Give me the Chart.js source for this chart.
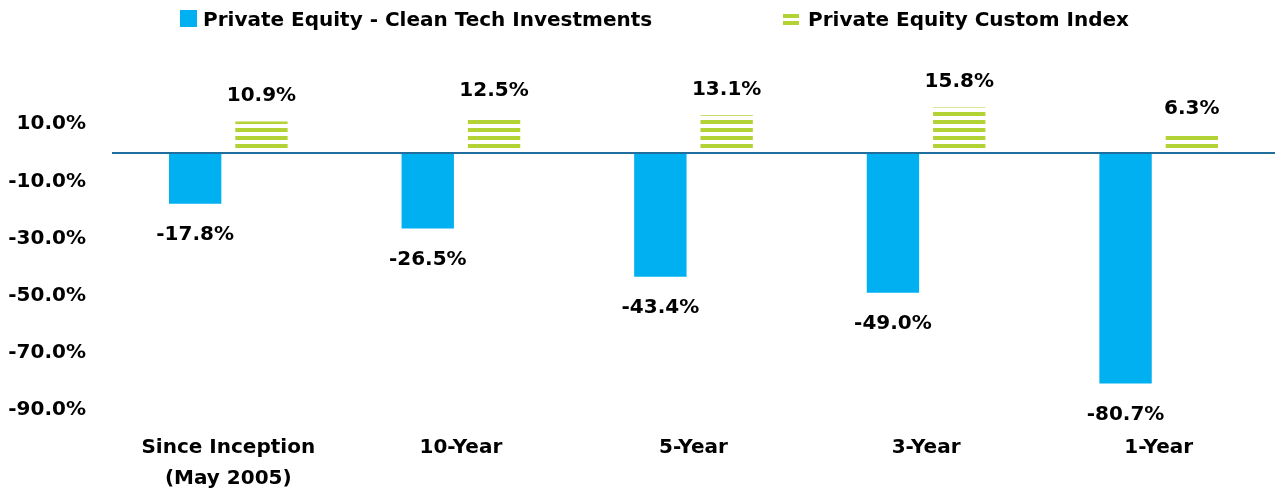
<!DOCTYPE html>
<html>
<head>
<meta charset="utf-8">
<script src="https://cdn.jsdelivr.net/npm/chart.js@4.4.0/dist/chart.umd.min.js"></script>
<style>
    body { margin: 0; background: #fff; }
    .wrap { position: relative; width: 1275px; height: 495px; }
    .legend-item { position: absolute; top: 6px; font: bold 20px "DejaVu Sans", sans-serif; color: #000; line-height: 26px; white-space: nowrap; }
    .legend-box { position: absolute; }
    .box-blue { left: 180px; top: 10px; width: 17px; height: 17px; background: #00b0f0; }
    .box-green { left: 783px; top: 14px; width: 16px; height: 11px;
        background: repeating-linear-gradient(to bottom, #b3d335 0 4px, transparent 4px 7px); }
</style>
</head>
<body>
<div class="wrap">
    <canvas id="perfChart" width="1275" height="495"></canvas>
    <div class="legend-box box-blue"></div>
    <div class="legend-item" style="left:203px">Private Equity - Clean Tech Investments</div>
    <div class="legend-box box-green"></div>
    <div class="legend-item" style="left:808px">Private Equity Custom Index</div>
</div>
<script>
// 데이터
const categories = [['Since Inception', '(May 2005)'], '10-Year', '5-Year', '3-Year', '1-Year'];
const seriesNames = ['Private Equity - Clean Tech Investments', 'Private Equity Custom Index'];
const cleanTechValues = [-17.8, -26.5, -43.4, -49.0, -80.7];
const customIndexValues = [10.9, 12.5, 13.1, 15.8, 6.3];
const yTickValues = [-90, -70, -50, -30, -10, 10];

const BLUE = '#00b0f0';
const GREEN = '#b3d335';
const FONT = '"DejaVu Sans", sans-serif';

// 가로 줄무늬 패턴
function makeStripes() {
    const c = document.createElement('canvas');
    c.width = 8;
    c.height = 8;
    const g = c.getContext('2d');
    g.fillStyle = GREEN;
    g.fillRect(0, 0, 8, 4);
    return g.createPattern(c, 'repeat');
}

// 0 기준선
const zeroLine = {
    id: 'zeroLine',
    afterDatasetsDraw(chart) {
        const { ctx, chartArea, scales } = chart;
        const y = Math.round(scales.y.getPixelForValue(0));
        ctx.save();
        ctx.strokeStyle = '#1f6e9e';
        ctx.lineWidth = 2;
        ctx.beginPath();
        ctx.moveTo(chartArea.left, y);
        ctx.lineTo(chartArea.right, y);
        ctx.stroke();
        ctx.restore();
    }
};

// 값 라벨
const valueLabels = {
    id: 'valueLabels',
    afterDatasetsDraw(chart) {
        const ctx = chart.ctx;
        ctx.save();
        ctx.font = 'bold 20px ' + FONT;
        ctx.fillStyle = '#000';
        ctx.textAlign = 'center';
        ctx.textBaseline = 'middle';
        chart.data.datasets.forEach((ds, i) => {
            chart.getDatasetMeta(i).data.forEach((bar, j) => {
                const v = ds.data[j];
                const y = v >= 0 ? bar.y - 26 : bar.y + 31;
                ctx.fillText(v.toFixed(1) + '%', bar.x, y);
            });
        });
        ctx.restore();
    }
};

const ctx = document.getElementById('perfChart');

new Chart(ctx, {
    type: 'bar',
    data: {
        labels: categories,
        datasets: [
            {
                label: seriesNames[0],
                data: cleanTechValues,
                backgroundColor: BLUE,
                categoryPercentage: 0.57,
                barPercentage: 0.79
            },
            {
                label: seriesNames[1],
                data: customIndexValues,
                backgroundColor: makeStripes(),
                categoryPercentage: 0.57,
                barPercentage: 0.79
            }
        ]
    },
    options: {
        responsive: false,
        animation: false,
        layout: { padding: { top: 67, right: 0, bottom: 0, left: 0 } },
        plugins: {
            legend: { display: false },
            tooltip: { enabled: false }
        },
        scales: {
            x: {
                grid: { display: false, drawTicks: false },
                border: { display: false },
                ticks: {
                    color: '#000',
                    padding: 22,
                    maxRotation: 0,
                    font: { family: FONT, size: 20, weight: 'bold', lineHeight: 1.55 }
                },
                afterFit(scale) { scale.height = 85; }
            },
            y: {
                min: -90,
                max: 30,
                grid: { display: false, drawTicks: false },
                border: { display: false },
                afterBuildTicks(scale) {
                    scale.ticks = yTickValues.map(v => ({ value: v }));
                },
                afterFit(scale) { scale.width = 112; },
                ticks: {
                    color: '#000',
                    padding: 26,
                    font: { family: FONT, size: 20, weight: 'bold' },
                    callback: v => v.toFixed(1) + '%'
                }
            }
        }
    },
    plugins: [zeroLine, valueLabels]
});
</script>
</body>
</html>
